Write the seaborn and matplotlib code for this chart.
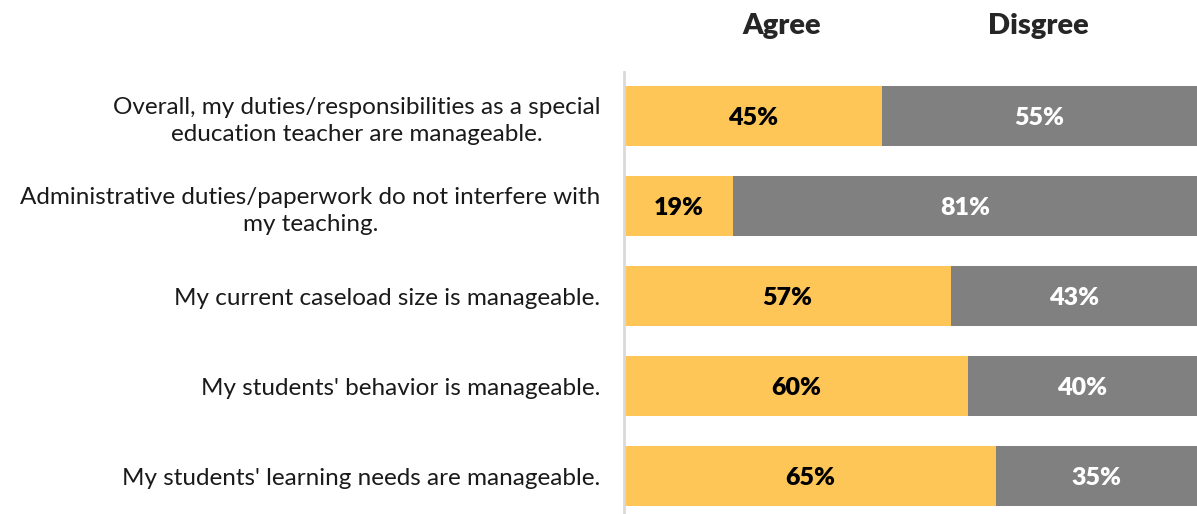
import pandas as pd
import matplotlib.pyplot as plt
import seaborn as sns

statements = [
    "Overall, my duties/responsibilities as a special\neducation teacher are manageable.",
    "Administrative duties/paperwork do not interfere with\nmy teaching.",
    "My current caseload size is manageable.",
    "My students' behavior is manageable.",
    "My students' learning needs are manageable.",
]
agree = [45, 19, 57, 60, 65]
disagree = [55, 81, 43, 40, 35]

df = pd.DataFrame({"Statement": statements, "Agree": agree, "Disagree": disagree})
df["Total"] = df["Agree"] + df["Disagree"]

sns.set_style("white")
plt.rcParams["font.family"] = ["Lato", "DejaVu Sans"]

fig = plt.figure(figsize=(11.97, 5.14), dpi=100)
ax = fig.add_axes([624 / 1197, 0, 1 - 624 / 1197, (514 - 72) / 514])

# gray full bar underneath, yellow agree bar on top
sns.barplot(data=df, x="Total", y="Statement", color="#808080", width=0.667,
            saturation=1, linewidth=0, ax=ax)
sns.barplot(data=df, x="Agree", y="Statement", color="#FEC657", width=0.667,
            saturation=1, linewidth=0, ax=ax)

for i, row in df.iterrows():
    ax.text(row["Agree"] / 2, i + 0.02, f"{row['Agree']}%", ha="center", va="center",
            fontsize=18, fontweight="heavy", color="black")
    ax.text(row["Agree"] + row["Disagree"] / 2, i + 0.02, f"{row['Disagree']}%",
            ha="center", va="center", fontsize=18, fontweight="heavy", color="white")

ax.set_xlim(0, 100)
ax.set_ylim(4.422, -0.489)
ax.set_xlabel("")
ax.set_ylabel("")
ax.set_xticks([])
ax.tick_params(axis="y", length=0, pad=17, labelsize=17.5)
for lbl in ax.get_yticklabels():
    lbl.set_multialignment("center")
    lbl.set_color("#1a1a1a")
    lbl.set_linespacing(1.35)

for side in ["top", "right", "bottom"]:
    ax.spines[side].set_visible(False)
ax.spines["left"].set_color("#d9d9d9")
ax.spines["left"].set_linewidth(2)

fig.text(782 / 1197, 1 - 26 / 514, "Agree", ha="center", va="center",
         fontsize=21, fontweight="heavy")
fig.text(1038 / 1197, 1 - 26 / 514, "Disgree", ha="center", va="center",
         fontsize=21, fontweight="heavy")

fig.savefig("out.png", dpi=100)
